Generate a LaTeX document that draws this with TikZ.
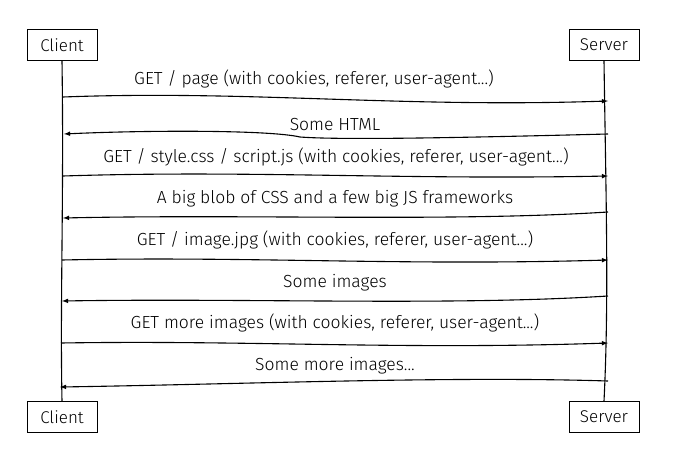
\documentclass[tikz,border=0pt]{standalone}
\usepackage{fontspec}
\setmainfont{Fira Sans Light}
\usepackage{tikz}

\begin{document}
\begin{tikzpicture}[x=1pt, y=-1pt, line width=1.1pt,
    actor/.style={draw, line width=1pt, minimum width=70pt, minimum height=31pt, inner sep=2pt, font=\fontsize{17}{19}\selectfont},
    msg/.style={inner sep=0pt, font=\fontsize{17.5}{19}\selectfont}]
    \useasboundingbox (0,0) rectangle (698,463);

    % actors
    \node[actor] (clienttop) at (62,45) {Client};
    \node[actor] (servertop) at (604,45) {Server};
    \node[actor] (clientbot) at (62,417) {Client};
    \node[actor] (serverbot) at (604,417) {Server};

    % lifelines
    \draw (clienttop.south) .. controls (64,200) and (60,300) .. (clientbot.north);
    \draw (servertop.south) .. controls (606,200) and (609,300) .. (serverbot.north);

    % end points of the messages
    \coordinate (c1) at (63,97);   \coordinate (s1) at (608,101);
    \coordinate (c2) at (64,134);  \coordinate (s2) at (608,134);
    \coordinate (c3) at (63,176);  \coordinate (s3) at (608,176);
    \coordinate (c4) at (63,218);  \coordinate (s4) at (608,212);
    \coordinate (c5) at (62,260);  \coordinate (s5) at (608,260);
    \coordinate (c6) at (62,301);  \coordinate (s6) at (608,296);
    \coordinate (c7) at (61,343);  \coordinate (s7) at (608,343);
    \coordinate (c8) at (60,387);  \coordinate (s8) at (608,381);

    % requests and answers
    \draw[-latex] (c1) .. controls (250,90) and (400,108) .. (s1);
    \node[msg] (m1) at (314,79) {GET / page (with cookies, referer, user-agent...)};

    \draw[-latex] (s2) .. controls (450,138) and (340,140) .. (300,137)
        .. controls (270,130) and (150,130) .. (c2);
    \node[msg] (m2) at (335,125) {Some HTML};

    \draw[-latex] (c3) .. controls (250,170) and (400,180) .. (s3);
    \node[msg] (m3) at (336,157) {GET / style.css / script.js (with cookies, referer, user-agent...)};

    \draw[-latex] (s4) .. controls (450,222) and (250,214) .. (c4);
    \node[msg] (m4) at (335,199) {A big blob of CSS and a few big JS frameworks};

    \draw[-latex] (c5) .. controls (250,256) and (400,266) .. (s5);
    \node[msg] (m5) at (335,240) {GET / image.jpg (with cookies, referer, user-agent...)};

    \draw[-latex] (s6) .. controls (450,306) and (250,298) .. (c6);
    \node[msg] (m6) at (335,283) {Some images};

    \draw[-latex] (c7) .. controls (250,340) and (400,350) .. (s7);
    \node[msg] (m7) at (335,323) {GET more images (with cookies, referer, user-agent...)};

    \draw[-latex] (s8) .. controls (450,376) and (250,384) .. (c8);
    \node[msg] (m8) at (335,366) {Some more images...};
\end{tikzpicture}
\end{document}
